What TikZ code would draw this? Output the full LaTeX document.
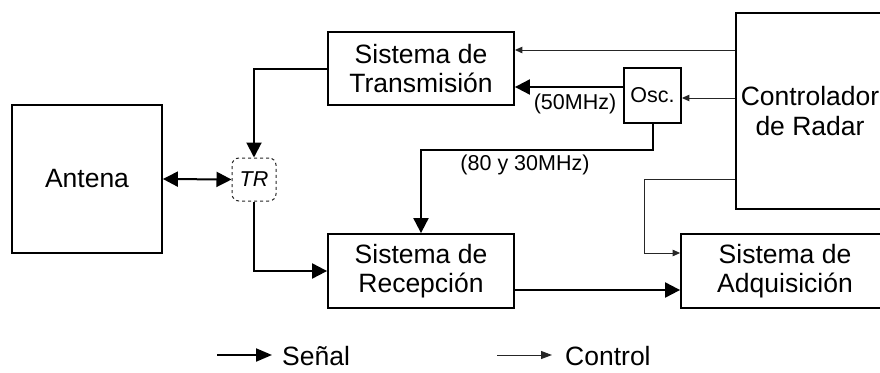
\documentclass[tikz,border=0pt]{standalone}
\usepackage{fontspec}
\setmainfont{Liberation Sans}
\usetikzlibrary{arrows.meta}
\begin{document}
\begin{tikzpicture}[x=1pt,y=-1pt,
  blk/.style={draw,line width=1.8pt,inner sep=0pt,align=center,
    font=\fontsize{26.5}{29.5}\selectfont},
  small/.style={font=\fontsize{21.5}{24}\selectfont,inner sep=0pt},
  sig/.style={line width=2pt,-{Triangle[length=15pt,width=15pt]}},
  ctrl/.style={line width=1pt,draw=black!85,-{Triangle[length=7.5pt,width=6.5pt]}},
  leg/.style={font=\fontsize{26.5}{29.5}\selectfont,inner sep=0pt,anchor=west}]
\useasboundingbox (0,0) rectangle (880,372);
\node[blk,minimum width=150pt,minimum height=148pt] (ant) at (87,179) {Antena};
\node[draw=black!85,line width=1pt,dashed,rounded corners=7pt,minimum width=44pt,
  minimum height=43pt,inner sep=0pt,font=\fontsize{21.5}{24}\selectfont\itshape] (tr) at (254,179.5) {TR};
\node[blk,minimum width=186pt,minimum height=73pt] (tx) at (421,68.5) {Sistema de\\Transmisión};
\node[blk,minimum width=186pt,minimum height=74pt] (rx) at (421,271) {Sistema de\\Recepción};
\node[blk,minimum width=57pt,minimum height=55pt,font=\fontsize{21.5}{24}\selectfont] (osc) at (652.5,95.5) {Osc.};
\node[blk,minimum width=148pt,minimum height=196pt] (ctl) at (810,111) {Controlador\\de Radar};
\node[blk,minimum width=208pt,minimum height=74pt] (acq) at (785,271) {Sistema de\\Adquisición};
% signal connectors
\draw[sig] (tx.west) -| (tr.north);
\draw[sig,{Triangle[length=15pt,width=15pt]}-{Triangle[length=15pt,width=15pt]}] (ant.east) -- (tr.west);
\draw[sig] (tr.south) |- (rx.west);
\coordinate (o50) at ([yshift=8.5pt]osc.west);
\draw[sig] (o50) -- (o50 -| tx.east);
\node[small] (l50) at (575,104) {(50MHz)};
\draw[sig] (osc.south) -- ++(0,26) -| (rx.north);
\node[small] (l80) at (525,165) {(80 y 30MHz)};
\coordinate (r1) at (rx.east |- 0,290);
\draw[sig] (r1) -- (r1 -| acq.west);
% control connectors
\coordinate (c1) at (ctl.west |- 0,50);
\draw[ctrl] (c1) -- (c1 -| tx.east);
\coordinate (c2) at (ctl.west |- 0,98);
\draw[ctrl] (c2) -- (c2 -| osc.east);
\coordinate (c3) at (ctl.west |- 0,179);
\coordinate (c3b) at (644,253);
\draw[ctrl] (c3) -| (c3b) -- (c3b -| acq.west);
% legend
\coordinate (ls1) at (217,355);
\coordinate (ls2) at (272,355);
\draw[sig,-{Triangle[length=16pt,width=13pt]}] (ls1) -- (ls2);
\node[leg] (lsig) at (282,356) {Señal};
\coordinate (lc1) at (497,355);
\coordinate (lc2) at (552,355);
\draw[ctrl,-{Triangle[length=11pt,width=8pt]}] (lc1) -- (lc2);
\node[leg] (lctl) at (565,356) {Control};
\end{tikzpicture}
\end{document}
